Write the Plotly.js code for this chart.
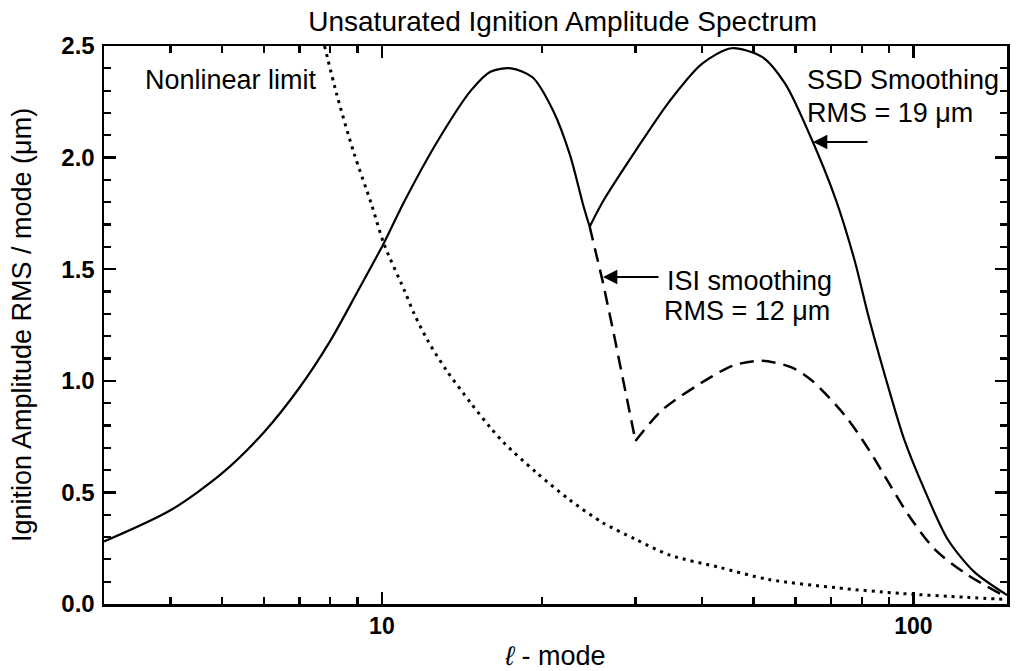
<!DOCTYPE html>
<html>
<head>
<meta charset="utf-8">
<script src="https://cdn.plot.ly/plotly-3.0.1.min.js"></script>
<style>html,body{margin:0;padding:0;background:#fff;}#chart{width:1018px;height:671px;}</style>
</head>
<body>
<div id="chart"></div>
<script>
// SSD smoothing (solid), RMS = 19 um
const ssdMode = [3, 4, 5, 6, 7, 8, 9, 10.1, 11, 12.7, 14.7, 16, 17.5, 19.2, 21, 22.6, 23.9, 24.6,
                 26, 30, 34.7, 40, 45.5, 52, 57.4, 63.6, 71.5, 77.5, 82.5, 91, 96, 105, 116, 130, 150];
const ssdAmp  = [0.28, 0.42, 0.585, 0.77, 0.97, 1.18, 1.40, 1.62, 1.80, 2.07, 2.30, 2.385, 2.40, 2.36, 2.21, 2.01, 1.79, 1.69,
                 1.80, 2.03, 2.25, 2.42, 2.49, 2.45, 2.33, 2.11, 1.81, 1.54, 1.28, 0.92, 0.74, 0.51, 0.29, 0.145, 0.04];
const ssdDipIndex = 17;

// ISI smoothing (dashed), RMS = 12 um
const isiMode = [24.6, 26, 27.2, 30, 33.7, 41.8, 46, 51.9, 59, 64.5, 74.6, 82.5, 90, 97.8, 109.7, 126.5, 150];
const isiAmp  = [1.69, 1.45, 1.23, 0.73, 0.87, 1.02, 1.07, 1.09, 1.06, 1.00, 0.84, 0.69, 0.54, 0.40, 0.245, 0.13, 0.03];
const isiDipIndex = 3;

// Nonlinear limit (dotted)
const limMode = [7.8, 8.23, 8.86, 9.53, 10.1, 11.0, 11.5, 12.2, 13.2, 14.7, 16.0, 17.0, 19.5, 22.6, 26, 30, 34.7, 43, 53.4, 71.5, 95, 126, 150];
const limAmp  = [2.5, 2.28, 2.02, 1.80, 1.61, 1.41, 1.30, 1.18, 1.05, 0.90, 0.79, 0.72, 0.59, 0.465, 0.365, 0.29, 0.22, 0.165, 0.11, 0.073, 0.047, 0.03, 0.02];

// Axis ticks
const xTickVals = [10, 100];
const xTickText = ['10', '100'];
const xMinorVals = [3, 4, 5, 6, 7, 8, 9, 20, 30, 40, 50, 60, 70, 80, 90];

const FONT = '"Liberation Sans", Arial, Helvetica, sans-serif';
const black = '#000';
const X_RANGE = [Math.log10(3), Math.log10(150)];
const Y_RANGE = [0, 2.5];

function seg(xs, ys, a, b, dash, width, shape) {
  return {
    x: xs.slice(a, b), y: ys.slice(a, b), type: 'scatter', mode: 'lines',
    line: {color: black, width: width, dash: dash, shape: shape, smoothing: 0.8},
    hoverinfo: 'skip', showlegend: false
  };
}

const traces = [
  seg(ssdMode, ssdAmp, 0, ssdDipIndex + 1, 'solid', 2.2, 'spline'),
  seg(ssdMode, ssdAmp, ssdDipIndex, ssdMode.length, 'solid', 2.2, 'spline'),
  seg(isiMode, isiAmp, 0, isiDipIndex + 1, '14px,8px', 2.5, 'linear'),
  seg(isiMode, isiAmp, isiDipIndex, isiMode.length, '14px,8px', 2.5, 'spline'),
  seg(limMode, limAmp, 0, limMode.length, '3px,5px', 3, 'spline')
];

const annFont = {family: FONT, size: 27, color: black};
const layout = {
  width: 1018, height: 671,
  margin: {l: 104, r: 11, t: 46, b: 67},
  paper_bgcolor: '#fff', plot_bgcolor: '#fff',
  font: {family: FONT, color: black},
  showlegend: false,
  title: {
    text: 'Unsaturated Ignition Amplitude Spectrum',
    font: {family: FONT, size: 28, color: black},
    xref: 'paper', x: 0.508, xanchor: 'center',
    yref: 'container', y: 0.968, yanchor: 'middle'
  },
  xaxis: {
    type: 'log', range: X_RANGE,
    tickmode: 'array', tickvals: xTickVals, ticktext: xTickText,
    ticks: 'inside', ticklen: 12, tickwidth: 2.4, tickcolor: black,
    minor: {tickmode: 'array', tickvals: xMinorVals, ticks: 'inside', ticklen: 7, tickwidth: 2.2, tickcolor: black, showgrid: false},
    showline: true, linewidth: 2.5, linecolor: black, mirror: 'allticks',
    showgrid: false, zeroline: false,
    tickfont: {family: FONT, size: 23, color: black, weight: 'bold'},
    title: {text: '<i>ℓ</i> - mode', font: {family: FONT, size: 27, color: black}, standoff: 14}
  },
  yaxis: {
    range: Y_RANGE, dtick: 0.5, tick0: 0, tickformat: '.1f',
    ticks: 'inside', ticklen: 12, tickwidth: 2.4, tickcolor: black,
    minor: {dtick: 0.1, ticks: 'inside', ticklen: 7, tickwidth: 2.2, tickcolor: black, showgrid: false},
    showline: true, linewidth: 2.5, linecolor: black, mirror: 'allticks',
    showgrid: false, zeroline: false,
    tickfont: {family: FONT, size: 24, color: black, weight: 'bold'},
    ticklabelstandoff: 2,
    title: {text: 'Ignition Amplitude RMS / mode (μm)', font: {family: FONT, size: 27, color: black}, standoff: 22}
  },
  annotations: [
    {xref: 'paper', yref: 'paper', x: 0.043, y: 0.939, xanchor: 'left', yanchor: 'middle',
     text: 'Nonlinear limit', showarrow: false, font: annFont},
    {xref: 'paper', yref: 'paper', x: 0.776, y: 0.939, xanchor: 'left', yanchor: 'middle',
     text: 'SSD Smoothing', showarrow: false, font: annFont},
    {xref: 'paper', yref: 'paper', x: 0.776, y: 0.880, xanchor: 'left', yanchor: 'middle',
     text: 'RMS = 19 μm', showarrow: false, font: annFont},
    {xref: 'paper', yref: 'paper', x: (813 - 104) / 903, y: (604 - 142) / 558, text: '',
     showarrow: true, arrowhead: 2, arrowsize: 1.3, arrowwidth: 2.2, arrowcolor: black, ax: 56, ay: 0},
    {xref: 'paper', yref: 'paper', x: (665 - 104) / 903, y: (604 - 281) / 558, xanchor: 'left', yanchor: 'middle',
     text: 'ISI smoothing', showarrow: false, font: annFont},
    {xref: 'paper', yref: 'paper', x: (662 - 104) / 903, y: (604 - 311) / 558, xanchor: 'left', yanchor: 'middle',
     text: 'RMS = 12 μm', showarrow: false, font: annFont},
    {xref: 'paper', yref: 'paper', x: (603 - 104) / 903, y: (604 - 277) / 558, text: '',
     showarrow: true, arrowhead: 2, arrowsize: 1.3, arrowwidth: 2.2, arrowcolor: black, ax: 57, ay: 0}
  ]
};

Plotly.newPlot('chart', traces, layout, {displayModeBar: false, staticPlot: true});
</script>
</body>
</html>
